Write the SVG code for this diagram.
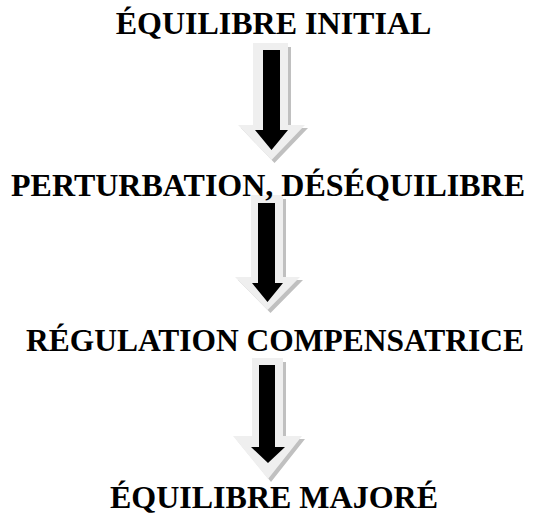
<svg xmlns="http://www.w3.org/2000/svg" width="533" height="515" viewBox="0 0 533 515">
<style>
.t{font-family:"Liberation Serif","Times New Roman",serif;font-weight:bold;font-size:32px;fill:#000;text-anchor:middle}
.sh{fill:#c0c0c0}
.out{fill:#efefef}
.in{fill:#000}
</style>
<rect width="533" height="515" fill="#fff"/>
<g id="connectors">
  <g id="a1">
    <polygon class="sh" points="256,47 291,47 291,128 308,128 274.5,163 241,128 256,128"/>
    <polygon class="out" points="253,43 288,43 288,125 305,125 271.5,160 238,125 253,125"/>
    <polygon class="in" points="263,50 280,50 280,130 288,130 271.5,150 255,130 263,130"/>
  </g>
  <g id="a2">
    <polygon class="sh" points="254,199 286,199 286,280 303,280 270.5,313 238,280 254,280"/>
    <polygon class="out" points="251,195 283,195 283,277 300,277 267.5,310 235,277 251,277"/>
    <polygon class="in" points="258,203 275,203 275,283 283,283 267.5,302 252,283 258,283"/>
  </g>
  <g id="a3">
    <polygon class="sh" points="255,362 286,362 286,439 305,439 271,482 236,439 255,439"/>
    <polygon class="out" points="252,358 283,358 283,436 302,436 268,479 233,436 252,436"/>
    <polygon class="in" points="259,365 275,365 275,447 285,447 268,463 251,447 259,447"/>
  </g>
</g>
<g id="n1"><text class="t" x="273.5" y="34">ÉQUILIBRE INITIAL</text></g>
<g id="n2"><text class="t" x="268" y="196">PERTURBATION, DÉSÉQUILIBRE</text></g>
<g id="n3"><text class="t" x="275" y="351" textLength="498" lengthAdjust="spacingAndGlyphs">RÉGULATION COMPENSATRICE</text></g>
<g id="n4"><text class="t" x="274" y="508">ÉQUILIBRE MAJORÉ</text></g>
</svg>
